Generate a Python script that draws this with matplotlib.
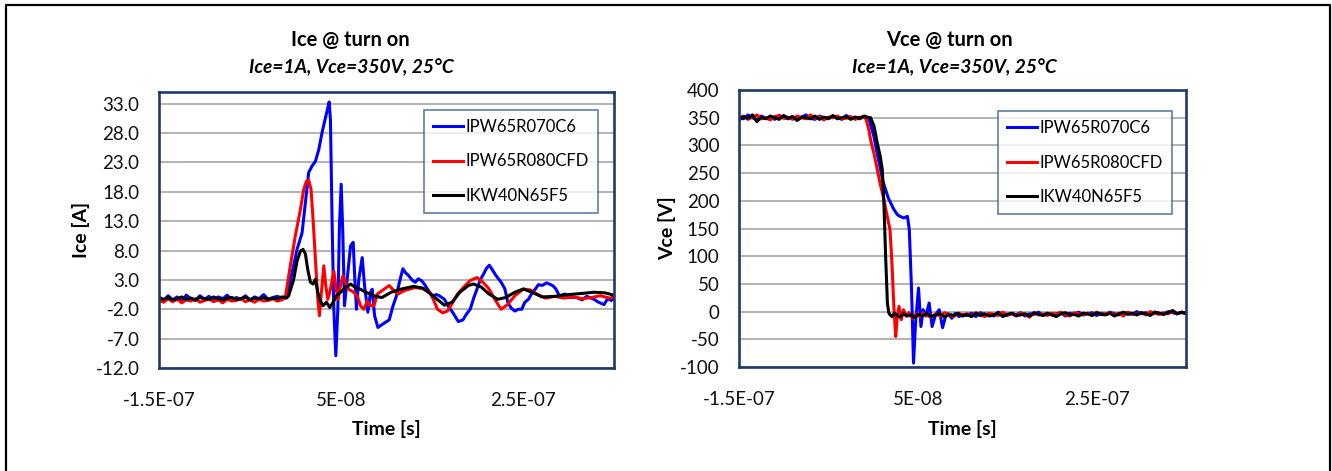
import numpy as np
import matplotlib
matplotlib.use("Agg")
from matplotlib import pyplot as plt
from matplotlib.lines import Line2D

plt.rcParams['font.family'] = ['Lato', 'DejaVu Sans']

# ---------------- data (time in ns) ----------------
names = ['IPW65R070C6', 'IPW65R080CFD', 'IKW40N65F5']
colors = ['#0000FF', '#FF0000', '#000000']

# Ice @ turn on
t_ice_c6 = list(range(-150, -9, 5)) + [
    -3.8, 1.7, 7.2, 10.9, 14.5, 18.2, 21.9, 25.6, 29.2, 32.9, 35.5, 37, 38.4, 40.3, 42.1, 44.3,
    46.5, 48.3, 50.2, 52, 53.8, 56.8, 60.5, 63.4, 65.2, 67, 69.6, 73.3, 75.9, 79.5, 82.5, 84.3,
    86.9, 90.6, 96, 103, 107, 111, 114, 118, 121, 124, 128, 131.6, 135, 139, 142, 145, 150, 155,
    158, 163.6, 168, 173, 179, 184, 188, 192, 196, 199.5, 203, 207, 210, 213, 216, 220, 226, 230,
    233.5, 237, 241, 245, 248.6, 252, 256, 260, 263.6, 267, 271, 276, 282.5, 286, 290, 296, 302,
    309, 315, 320, 328, 333, 339, 343, 347, 350]
ice_c6 = [
    0.2, -0.6, 0.3, -0.4, 0.1, -0.7, 0.4, -0.2, -0.5, 0.3, -0.3, 0.2, -0.6, 0.1, -0.2, 0.4, -0.5,
    0.0, -0.3, 0.3, -0.4, 0.1, -0.2, 0.5, -0.3, 0.0, 0.2, -0.1, 0.3,
    4.2, 8.2, 11.0, 16.2, 21.3, 22.4, 23.2, 25.2, 28.1, 30.6, 32.3, 33.3, 30.3, 12.2, -2.0, -9.9,
    -2.0, 12.2, 19.3, 11.0, -1.4, 3.1, 8.8, 9.4, 3.1, -2.0, 3.1, 6.8, 2.0, -2.5, 0.9, 1.4, -3.1, -5.1,
    -4.5, -3.8, -1.5, 0.3, 2.5, 4.9, 4.2, 3.8, 3.0, 2.6, 3.2, 2.8, 2.2, 1.45, 0.3, 0.5, 0.3, -0.3,
    -1.5, -2.6, -4.1, -3.8, -2.8, -2.0, 0.0, 1.45, 3.0, 4.1, 5.0, 5.5, 4.8, 3.8, 2.6, 1.5, -0.9,
    -1.8, -2.3, -2.0, -2.0, -0.8, -0.3, 0.8, 1.45, 2.2, 2.05, 2.5, 2.05, 1.5, 0.3, 0.6, 0.0, 0.0,
    -0.4, 0.2, -0.3, -0.8, -1.2, -0.2, -0.5, -0.1]

t_ice_cfd = list(range(-150, -14, 5)) + [
    -11.2, -5.7, -0.2, 5.4, 9, 12, 14.5, 17.1, 19.3, 21.9, 24.5, 26.3, 28.5, 31.1, 33.3, 35.5,
    38.4, 42.1, 44.7, 46.9, 49.4, 52, 55, 58.6, 64.1, 68.5, 71.5, 75.1, 78.8, 82.5, 86.2, 90, 97.6,
    103, 108, 112.7, 120, 131.6, 140, 148, 152, 156, 161.8, 167, 173, 178, 184.4, 192, 199.5, 206,
    212.7, 219, 226, 233, 241, 250.4, 258, 265, 275, 285, 295, 305, 315, 325, 335, 345, 350]
ice_cfd = [
    -0.4, -0.8, -0.2, -0.7, -0.3, -0.9, -0.4, -0.6, -0.2, -0.8, -0.5, -0.3, -0.7, -0.4, -0.9, -0.3,
    -0.6, -0.5, -0.2, -0.7, -0.4, -0.8, -0.3, -0.6, -0.5, -0.2, -0.6, -0.4,
    0.0, 5.4, 10.5, 15.0, 18.4, 19.8, 20.0, 18.4, 13.3, 6.5, -0.3, -3.1, 0.9, 5.4, 2.0, -0.3, 1.4,
    4.5, 1.4, -0.3, 2.0, 3.7, 2.6, 1.4, 0.9, 0.0, -1.4, -2.0, -0.6, -1.4, -1.4, 0.6, 1.45, 2.05,
    1.2, 0.6, 1.2, 1.7, 1.5, 0.8, -0.5, -2.0, -2.6, -2.3, -0.8, 0.6, 1.7, 2.9, 3.4, 2.6, 1.45, -0.3,
    -2.0, -1.2, 0.3, 1.45, 1.3, 0.6, -0.1, 0.2, -0.1, 0.1, -0.2, 0.0, 0.3, -0.1, 0.1]

t_ice_f5 = list(range(-150, -9, 5)) + [
    -7.5, -2, 1.7, 5.4, 8.3, 10.9, 13.4, 16.4, 19.3, 21.9, 24.5, 27.4, 30.3, 34, 37.7, 41.4, 45,
    49.4, 55, 60.5, 66, 71.5, 77, 82.5, 88, 95, 105, 116.5, 129.7, 140, 148.5, 158, 163.6, 172,
    180.6, 190, 195.7, 204, 212.7, 222, 231, 241, 250.4, 260, 271, 285, 300, 315, 328, 340, 350]
ice_f5 = [
    -0.1, -0.3, 0.0, -0.4, -0.2, 0.1, -0.3, -0.1, -0.4, 0.0, -0.2, -0.3, 0.1, -0.2, -0.4, -0.1,
    0.0, -0.3, -0.2, 0.1, -0.4, -0.1, -0.2, 0.0, -0.3, -0.1, -0.2, 0.1, -0.1,
    0.3, 3.1, 6.2, 7.9, 8.2, 7.4, 4.8, 2.6, 2.3, 3.1, 0.9, -0.6, -1.4, -0.8, -1.7, -0.8, 0.3, 0.9,
    1.7, 2.3, 1.7, 1.4, 0.9, 0.6, 0.2, 0.0, 0.9, 1.45, 1.9, 1.6, 0.6, -0.6, -1.3, -0.8, 0.9, 2.05,
    2.3, 1.8, 0.6, -0.3, 0.0, 0.9, 1.45, 0.9, 0.1, 0.2, 0.5, 0.7, 0.9, 0.8, 0.4]

# Vce @ turn on
t_tail = list(range(105, 351, 5))

t_vce_c6 = list(range(-150, -4, 5)) + [
    0.9, 4, 8.4, 11, 14, 17, 19.7, 23, 27.2, 30, 34.6, 38.4, 40.5, 43, 45.2, 47.5, 50.8, 53.5, 56,
    59, 62.7, 66, 70, 74, 77.7, 81, 84, 88, 92, 96, 100] + t_tail
vce_c6 = [
    352, 348, 355, 350, 346, 353, 349, 351, 347, 354, 350, 348, 352, 346, 351, 355, 349, 347, 353,
    350, 348, 352, 351, 347, 354, 349, 351, 348, 352, 350,
    316, 290, 256, 235, 220, 205, 196, 185, 175, 172, 169, 172, 148, 40, -93, -20.6, 42.6, -27,
    3.4, -8, 15.5, -27, -5, 3.4, -29, -8.6, -4, -12, -3, -9, -5,
    -7, -3, -9, -2, -6, -4, -8, -1, -5, -7, -3, -6, -2, -8, -4, -5, -1, -7, -3, -6, -4, -2, -8, -3,
    -5, -1, -6, -4, -2, -7, -3, -5, -1, -4, -6, -2, -3, -5, 0, -4, -2, -6, -1, -3, -5, 0, -2, -4,
    -1, -3]

t_vce_cfd = list(range(-150, -9, 5)) + [
    -8.4, -5, -2.8, 1, 4.7, 8, 12.2, 15, 18.9, 20.3, 21.6, 22.5, 23.4, 25.3, 27, 29, 31.5, 34, 37,
    40, 44, 48, 52, 56, 60, 65, 70, 75, 80, 85, 90, 95, 100] + t_tail
vce_cfd = [
    349, 353, 347, 351, 355, 348, 350, 346, 352, 354, 349, 351, 347, 353, 350, 348, 355, 349, 352,
    346, 351, 350, 353, 348, 349, 352, 347, 351, 350,
    350, 330, 310, 285, 256, 230, 202, 178, 148, 110, 70, 35, 3.4, -45, -10, 9.4, -14.6, 3.4, -8,
    -2, -12, -4, -9, -3, -7, -10, -4, -8, -2, -6, -9, -3, -6,
    -4, -8, -2, -6, -9, -3, -5, -7, -1, -6, -4, -8, -3, -5, -10, -2, -6, -4, -7, -3, -5, -1, -6, -8,
    -2, -4, -6, -3, -7, -1, -5, -4, -2, -6, -3, -8, -1, -4, -5, -2, -6, 0, -3, -5, -2, -4, 1, -3,
    -2, -4]

t_vce_f5 = list(range(-150, -4, 5)) + [
    -2.8, 1, 4.7, 8, 10.3, 12.2, 14, 16, 17.5, 18.9, 21, 24, 27, 30, 34, 38, 42, 46, 50, 55, 60,
    65, 70, 75, 80, 85, 90, 95, 100] + t_tail
vce_f5 = [
    346, 352, 349, 355, 343, 351, 348, 353, 350, 347, 354, 349, 352, 345, 351, 350, 348, 353, 347,
    351, 349, 354, 348, 350, 352, 347, 351, 349, 353, 350,
    350, 335, 304, 280, 256, 190, 100, 15.5, -2, -5.6, -9, -3, -7, -10, -4, -8, -6, -11, -5, -8,
    -3, -9, -6, -4, -10, -5, -7, -3, -8,
    -5, -9, -3, -7, -4, -8, -6, -2, -9, -5, -3, -7, -6, -4, -8, -2, -5, -7, -3, -6, -9, -4, -2, -6,
    -5, -8, -3, -4, -7, -2, -5, -6, -3, -8, -4, -1, -5, -3, -6, -2, -4, -7, -1, -3, -5, -2, 2, -4,
    -1, -3]

x_ticks = [-1.5e-7, 5e-8, 2.5e-7]
x_ticklabels = ['-1.5E-07', '5E-08', '2.5E-07']
ice_ticks = [-12, -7, -2, 3, 8, 13, 18, 23, 28, 33]
vce_ticks = [-100, -50, 0, 50, 100, 150, 200, 250, 300, 350, 400]

spine_col = '#1F3A6A'
grid_col = '#A6A6A6'

fig = plt.figure(figsize=(13.32, 4.71), dpi=100)
W, H = 1332, 471


def px_axes(x0, y0, x1, y1):
    return fig.add_axes([x0 / W, 1 - y1 / H, (x1 - x0) / W, (y1 - y0) / H])


def style(ax, ylim, yticks, yfmt, ylabel, ylab_x, leg_anchor):
    ax.set_xlim(-1.5e-7, 3.5e-7)
    ax.set_ylim(*ylim)
    ax.set_xticks(x_ticks)
    ax.set_xticklabels(x_ticklabels)
    ax.set_yticks(yticks)
    ax.set_yticklabels([yfmt.format(v) for v in yticks])
    ax.grid(axis='y', color=grid_col, lw=1.2)
    ax.set_axisbelow(True)
    for s in ax.spines.values():
        s.set_color(spine_col)
        s.set_linewidth(1.9)
    ax.tick_params(axis='both', length=0, labelsize=13.5, colors='#111111')
    ax.tick_params(axis='y', pad=14)
    ax.tick_params(axis='x', pad=17)
    ax.set_xlabel('Time [s]', fontsize=14, fontweight='bold')
    ax.xaxis.set_label_coords(0.5, -0.19)
    ax.set_ylabel(ylabel, fontsize=14, fontweight='bold')
    ax.yaxis.set_label_coords(ylab_x, 0.5)
    leg = ax.legend(loc='upper right', bbox_to_anchor=leg_anchor, fontsize=12,
                    frameon=True, fancybox=False, handlelength=1.8, handletextpad=0.15,
                    labelspacing=1.1, borderpad=0.55, borderaxespad=0)
    leg.get_frame().set_edgecolor('#385D8A')
    leg.get_frame().set_linewidth(1.2)


ax1 = px_axes(159, 92, 614, 368)
for t, v, n, c in zip([t_ice_c6, t_ice_cfd, t_ice_f5], [ice_c6, ice_cfd, ice_f5], names, colors):
    ax1.plot(np.array(t) * 1e-9, v, color=c, lw=2.2, label=n)
style(ax1, (-12, 35), ice_ticks, '{:.1f}', 'Ice [A]', -0.152, (0.965, 0.935))

ax2 = px_axes(739, 90, 1186, 367)
for t, v, n, c in zip([t_vce_c6, t_vce_cfd, t_vce_f5], [vce_c6, vce_cfd, vce_f5], names, colors):
    ax2.plot(np.array(t) * 1e-9, v, color=c, lw=2.2, label=n)
style(ax2, (-100, 400), vce_ticks, '{:d}', 'Vce [V]', -0.14, (0.969, 0.924))

# titles
fig.text(350 / W, 1 - 40 / H, 'Ice @ turn on', ha='center', va='center',
         fontsize=14.5, fontweight='bold')
fig.text(351 / W, 1 - 67 / H, 'Ice=1A, Vce=350V, 25°C', ha='center', va='center',
         fontsize=13.8, fontweight='bold', fontstyle='italic')
fig.text(949 / W, 1 - 40 / H, 'Vce @ turn on', ha='center', va='center',
         fontsize=14.5, fontweight='bold')
fig.text(954 / W, 1 - 67 / H, 'Ice=1A, Vce=350V, 25°C', ha='center', va='center',
         fontsize=13.8, fontweight='bold', fontstyle='italic')

# outer frame (left, top, right)
fig.add_artist(Line2D([6 / W, 6 / W, 1330 / W, 1330 / W], [0, 1 - 5 / H, 1 - 5 / H, 0],
                      color='black', lw=1.6, transform=fig.transFigure))

fig.savefig('out.png', dpi=100)
